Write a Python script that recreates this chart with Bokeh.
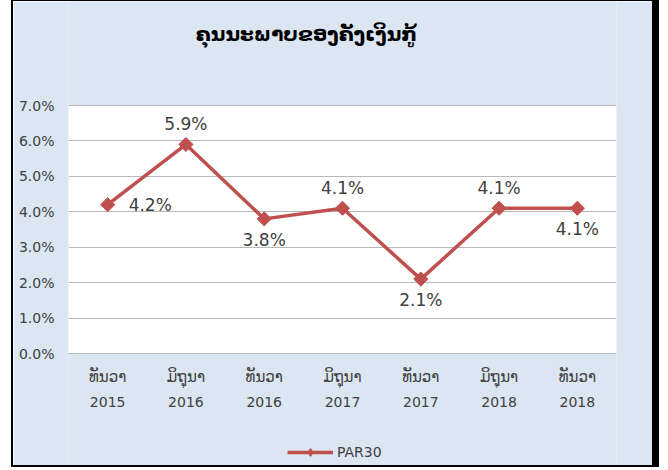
import math
from bokeh.plotting import figure
from bokeh.models import (ColumnDataSource, Range1d, NumeralTickFormatter, Legend,
                          LegendItem, FixedTicker, BoxAnnotation, Label)
from bokeh.core.properties import value
from bokeh.embed import file_html
from bokeh.resources import INLINE

# ---- data ----
months = ["ທັນວາ", "ມິຖຸນາ", "ທັນວາ", "ມິຖຸນາ", "ທັນວາ", "ມິຖຸນາ", "ທັນວາ"]
years = ["2015", "2016", "2016", "2017", "2017", "2018", "2018"]
par30 = [0.042, 0.059, 0.038, 0.041, 0.021, 0.041, 0.041]
label_side = ["right", "above", "below", "above", "below", "above", "below"]
y_ticks = [0.0, 0.01, 0.02, 0.03, 0.04, 0.05, 0.06, 0.07]
y_min, y_max = 0.0, 0.07
title_text = "ຄຸນນະພາບຂອງຄັງເງິນກູ້"
series_name = "PAR30"

pos = list(range(len(months)))

RED = "#c0504d"
BG = "#dce6f2"
TXT = "#404040"

# layout geometry (pixels): plot band inside the frame
FRAME_H = 467
BAND_TOP, BAND_BOTTOM = 104, 352          # px from frame top
per_px = (y_max - y_min) / (BAND_BOTTOM - BAND_TOP)
y_lo = y_min - (FRAME_H - BAND_BOTTOM) * per_px
y_hi = y_max + BAND_TOP * per_px

p = figure(width=648, height=FRAME_H, x_range=Range1d(-0.5, len(months) - 0.5),
           y_range=Range1d(y_lo, y_hi), output_backend="svg", toolbar_location=None,
           min_border_left=55, min_border_right=45, min_border_top=0,
           min_border_bottom=0, x_axis_location=None)
p.border_fill_color = BG
p.background_fill_color = BG
p.outline_line_color = None

# white plotting band
p.add_layout(BoxAnnotation(bottom=y_min, top=y_max, fill_color="white", fill_alpha=1,
                           line_color=None, level="image"))

# y axis
p.yaxis.ticker = FixedTicker(ticks=y_ticks)
p.yaxis.formatter = NumeralTickFormatter(format="0.0%")
p.yaxis.axis_line_color = None
p.yaxis.major_tick_line_color = None
p.yaxis.minor_tick_line_color = None
p.yaxis.major_tick_out = 0
p.yaxis.major_label_standoff = 14
p.yaxis.major_label_text_font = "DejaVu Sans"
p.yaxis.major_label_text_font_size = "14px"
p.yaxis.major_label_text_color = TXT
p.ygrid.ticker = FixedTicker(ticks=y_ticks)
p.ygrid.grid_line_color = "#b8b8b8"
p.ygrid.grid_line_width = 1
p.xgrid.grid_line_color = None

# category labels (two lines) under the band
csrc = ColumnDataSource(dict(x=pos, y=[y_min] * len(pos), m=months, yr=years))
p.text("x", "y", text="m", source=csrc, y_offset=23, text_align="center",
       text_baseline="middle", text_font=value("DejaVu Sans"),
       text_font_size="15px", text_color=TXT)
p.text("x", "y", text="yr", source=csrc, y_offset=48, text_align="center",
       text_baseline="middle", text_font=value("DejaVu Sans"),
       text_font_size="14px", text_color=TXT)

# series
src = ColumnDataSource(dict(x=pos, y=par30))
ln = p.line("x", "y", source=src, line_color=RED, line_width=3.5)
mk = p.scatter("x", "y", source=src, marker="square", size=10, angle=math.pi / 4,
               fill_color=RED, line_color=RED)
# legend-only marker (a single undrawn point)
leg_mk = p.scatter(x=[float("nan")], y=[float("nan")], marker="diamond", size=13,
                   fill_color=RED, line_color=RED)

# data labels
offs = {"right": (21, 0, "left"), "above": (0, -20, "center"), "below": (0, 21, "center")}
for side in ("right", "above", "below"):
    idx = [i for i, s in enumerate(label_side) if s == side]
    lsrc = ColumnDataSource(dict(
        x=[pos[i] for i in idx], y=[par30[i] for i in idx],
        t=[f"{par30[i] * 100:.1f}%" for i in idx]))
    p.text("x", "y", text="t", source=lsrc, x_offset=offs[side][0],
           y_offset=offs[side][1], text_align=offs[side][2],
           text_baseline="middle", text_font=value("DejaVu Sans"),
           text_font_size="17px", text_color=TXT)

# legend
leg = Legend(items=[LegendItem(label=series_name, renderers=[ln, leg_mk])],
             orientation="horizontal", location=(219, 6),
             background_fill_alpha=0, border_line_color=None,
             label_text_font="DejaVu Sans", label_text_font_size="14px",
             label_text_color=TXT, glyph_width=46, margin=0, padding=0,
             label_standoff=4)
p.add_layout(leg, "center")

# title
p.add_layout(Label(x=238, y=FRAME_H - 32, x_units="screen", y_units="screen",
                   text=title_text, text_align="center", text_baseline="middle",
                   text_font="DejaVu Sans", text_font_style="bold",
                   text_font_size="20px", text_color="black"))

p.styles = {"border-left": "2px solid black", "border-top": "1px solid black",
            "border-right": "7px solid black", "border-bottom": "2px solid black",
            "margin-left": "11px"}

open("out.html", "w").write(file_html(p, INLINE))
